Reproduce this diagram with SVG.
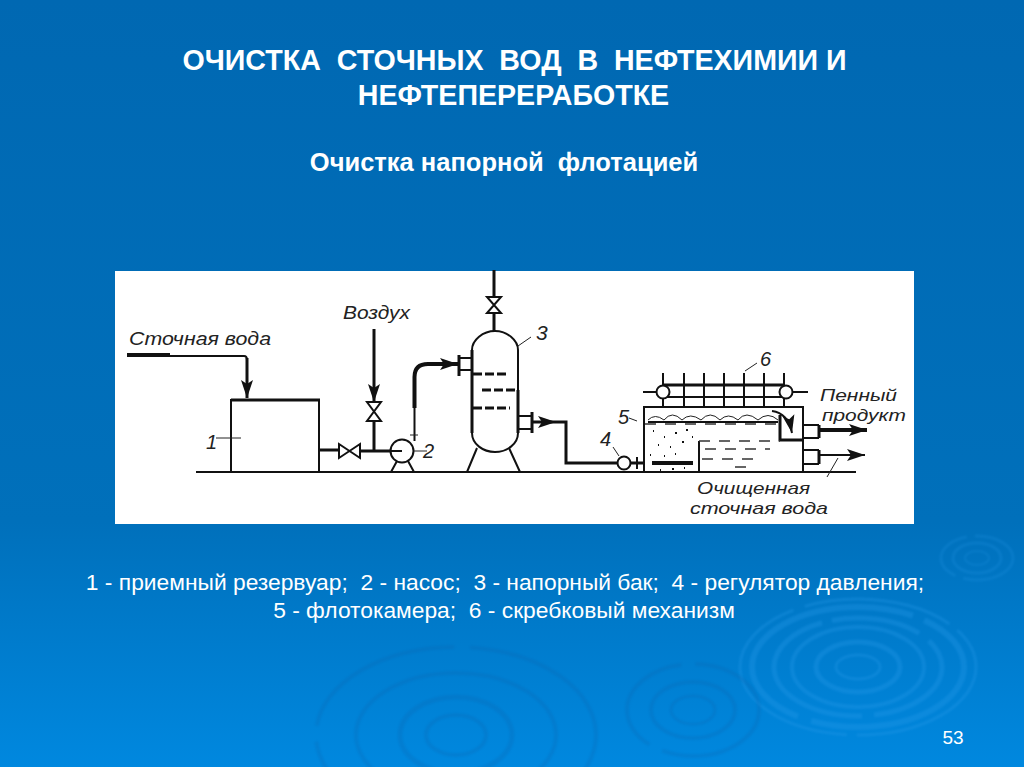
<svg xmlns="http://www.w3.org/2000/svg" width="1024" height="767" viewBox="0 0 1024 767">
<style>
.t{font-family:"Liberation Sans",Arial,sans-serif;fill:#fff;text-anchor:middle;white-space:pre}
.b{font-weight:bold}
.h{font-family:"Liberation Sans",Arial,sans-serif;font-style:italic;fill:#222;white-space:pre}
.l{fill:none;stroke:#111;stroke-width:2}
.m{fill:none;stroke:#111;stroke-width:3}
.k{fill:none;stroke:#111;stroke-width:4}
.n{fill:none;stroke:#222;stroke-width:1}
.d{fill:none;stroke:#111;stroke-width:3;stroke-dasharray:9 3}
.f{fill:none;stroke:#333;stroke-width:1.5;stroke-dasharray:11 9}
.v{fill:#fff;stroke:#111;stroke-width:2}
.r{fill:none;stroke:#2a9bea;opacity:.3;filter:url(#soft)}
.s{fill:none;stroke:#0a5ea8;opacity:.2;filter:url(#soft)}
</style>
<defs>
<linearGradient id="bg" x1="0" y1="0" x2="0" y2="1">
<stop offset="0" stop-color="#0068b2"/>
<stop offset=".68" stop-color="#0070bb"/>
<stop offset="1" stop-color="#0088df"/>
</linearGradient>
<filter id="soft" x="-10%" y="-10%" width="120%" height="120%"><feGaussianBlur stdDeviation="1"/></filter>
<marker id="a" markerUnits="userSpaceOnUse" markerWidth="20" markerHeight="14" refX="18" refY="7" orient="auto">
<path d="M0 1 18 7 0 13 4 7Z" fill="#111"/>
</marker>
</defs>
<rect width="1024" height="767" fill="url(#bg)"/>
<g id="ripples">
<g class="r">
<ellipse cx="858" cy="667" rx="118" ry="68" stroke-width="3" stroke-dasharray="150 10 220 12"/>
<ellipse cx="858" cy="667" rx="106" ry="60" stroke-width="6" stroke-dasharray="180 14 260 12"/>
<ellipse cx="858" cy="667" rx="84" ry="49" stroke-width="5" stroke-dasharray="90 12 180 10"/>
<ellipse cx="858" cy="667" rx="66" ry="40" stroke-width="4"/>
<ellipse cx="858" cy="667" rx="42" ry="25" stroke-width="5"/>
<ellipse cx="858" cy="667" rx="22" ry="12" stroke-width="3"/>
</g>
<g class="s">
<ellipse cx="693" cy="710" rx="66" ry="46" stroke-width="4" stroke-dasharray="120 14"/>
<ellipse cx="693" cy="710" rx="42" ry="28" stroke-width="4"/>
<ellipse cx="693" cy="710" rx="22" ry="14" stroke-width="3"/>
<ellipse cx="977" cy="558" rx="36" ry="22" stroke-width="3" stroke-dasharray="60 8" style="stroke:#2a9bea"/>
<ellipse cx="977" cy="558" rx="24" ry="15" stroke-width="3" style="stroke:#2a9bea"/>
<ellipse cx="977" cy="558" rx="12" ry="7" stroke-width="2" style="stroke:#2a9bea"/>
<ellipse cx="456" cy="735" rx="140" ry="88" stroke-width="4" stroke-dasharray="170 16"/>
<ellipse cx="456" cy="735" rx="100" ry="62" stroke-width="4"/>
<ellipse cx="456" cy="735" rx="56" ry="38" stroke-width="5"/>
<ellipse cx="456" cy="735" rx="30" ry="20" stroke-width="4"/>
</g>
</g>
<g id="titles">
<text class="t b" x="514.500" y="70" font-size="28.600">ОЧИСТКА  СТОЧНЫХ  ВОД  В  НЕФТЕХИМИИ И</text>
<text class="t b" x="513.500" y="105" font-size="28.600">НЕФТЕПЕРЕРАБОТКЕ</text>
<text class="t b" x="504" y="171" font-size="25.500">Очистка напорной  флотацией</text>
</g>
<rect x="115" y="271" width="799" height="253" fill="#fff"/>
<g id="connectors">
<path class="l" d="M196 472H856"/>
<path class="k" d="M127 355H170"/>
<path class="l" d="M170 356H244Q247 356 247 360"/>
<path class="m" d="M247 358V398" marker-end="url(#a)"/>
<path class="m" d="M374 329V402" marker-end="url(#a)"/>
<path class="m" d="M374 421V451"/>
<path class="m" d="M319 450H339M360 451H391"/>
<path class="l" d="M414.500 441V408"/>
<path class="k" d="M414.500 408V377Q414.500 364 428 364H458" marker-end="url(#a)"/>
<path class="m" d="M494 270V297M494 313V331"/>
<path class="m" d="M532 422H566V463H617"/>
<path class="l" d="M532 422H556" marker-end="url(#a)"/>
<path class="m" d="M631 463H644"/>
<path class="k" d="M819 430H867" marker-end="url(#a)"/>
<path class="l" d="M819 455H865" marker-end="url(#a)"/>
</g>
<g id="node-1">
<path class="l" d="M231 472V400H319V472"/>
<path class="m" d="M231 400H320"/>
<path class="n" d="M216 438H241"/>
<text class="h" x="206" y="449" font-size="20">1</text>
</g>
<g id="valve-1"><path class="v" d="M339 444 360 458V444L339 458Z"/></g>
<g id="valve-2"><path class="v" d="M367 402H381L367 421H381Z"/></g>
<g id="valve-3"><path class="v" d="M487 297H501L487 313H501Z"/></g>
<g id="node-2">
<path class="l" d="M391 472 397 461M414 472 408 461"/>
<circle class="v" cx="402" cy="451" r="11.500"/>
<path class="l" d="M391 451H402"/>
<path class="n" d="M414 451H427M410 435H418"/>
<text class="h" x="423" y="458" font-size="20">2</text>
</g>
<g id="node-3">
<path class="l" d="M472 350C472 340 483 331 495 331C507 331 518 340 518 350V433C518 444 507 452 495 452C483 452 472 444 472 433Z" fill="#fff"/>
<path class="m" d="M472 350V433M518 390V433"/>
<path class="d" d="M473 374H508M482 390H518M473 408H510"/>
<path class="l" d="M477 448 467 472M509 448 520 472"/>
<path class="m" d="M459 355V376"/>
<path class="l" d="M459 358H472M459 370H472"/>
<path class="m" d="M532 412V433"/>
<path class="l" d="M518 416H532M518 429H532"/>
<path class="n" d="M518 346 531 337"/>
<text class="h" x="536" y="340" font-size="21">3</text>
</g>
<g id="node-4">
<circle class="v" cx="624" cy="463" r="6.500"/>
<path class="l" d="M637 457V469"/>
<path class="n" d="M619 456 613 447"/>
<text class="h" x="600" y="446" font-size="20">4</text>
</g>
<g id="node-5">
<path class="l" d="M644 473V407H803V473"/>
<path class="l" d="M699 473V441"/>
<path class="m" d="M780 415V440H803"/>
<path class="f" d="M699 441H780"/>
<path class="f" d="M645 424H780"/>
<path class="f" d="M705 449H770M702 459H760M735 467H755"/>
<path class="n" d="M648 420Q655 413 664 420Q672 410 682 420Q690 412 701 420Q710 410 720 420Q728 412 738 420Q746 410 758 420Q768 411 778 420"/>
<path class="l" d="M648 422H778"/>
<path d="M653 431h1M664 437h1M675 433h2M686 430h2M658 445h1M670 447h1M682 442h2M692 437h1M650 455h1M664 456h1M675 454h1M660 470h1M672 469h2M684 468h1" stroke="#111" stroke-width="2" fill="none"/>
<path class="k" d="M652 463H693"/>
<path class="l" d="M772 411Q788 413 792 433" marker-end="url(#a)"/>
<path class="l" d="M803 425H819M803 438H819M803 450H819M803 464H819"/>
<path class="m" d="M819 425V438M819 450V464"/>
<path class="n" d="M629 418 637 421"/>
<text class="h" x="618" y="424" font-size="20">5</text>
</g>
<g id="node-6">
<path class="m" d="M663 385H785"/>
<path class="l" d="M663 397H785"/>
<path class="l" d="M663 373V407M684 373V407M704 373V407M724 373V407M744 373V407M764 373V407M784 373V407"/>
<path class="l" d="M643 392H657M792 392H808"/>
<circle class="v" cx="663" cy="392" r="6.500"/>
<circle class="v" cx="786" cy="392" r="6.500"/>
<path class="n" d="M745 371 757 363"/>
<text class="h" x="760" y="366" font-size="20">6</text>
</g>
<g id="diagram-labels">
<text class="h" x="129" y="345" font-size="19" textLength="142" lengthAdjust="spacingAndGlyphs">Сточная вода</text>
<text class="h" x="343" y="319" font-size="19" textLength="67" lengthAdjust="spacingAndGlyphs">Воздух</text>
<text class="h" x="820" y="401" font-size="17" textLength="77" lengthAdjust="spacingAndGlyphs">Пенный</text>
<text class="h" x="822" y="421" font-size="17" textLength="84" lengthAdjust="spacingAndGlyphs">продукт</text>
<text class="h" x="697" y="494" font-size="17" textLength="113" lengthAdjust="spacingAndGlyphs">Очищенная</text>
<text class="h" x="690" y="514" font-size="17" textLength="138" lengthAdjust="spacingAndGlyphs">сточная вода</text>
<path class="n" d="M838 458 827 477"/>
</g>
<g id="legend">
<text class="t" x="505" y="590" font-size="22.800">1 - приемный резервуар;  2 - насос;  3 - напорный бак;  4 - регулятор давления;</text>
<text class="t" x="504" y="618" font-size="22.800">5 - флотокамера;  6 - скребковый механизм</text>
<text class="t" x="953" y="744" font-size="19">53</text>
</g>
</svg>
